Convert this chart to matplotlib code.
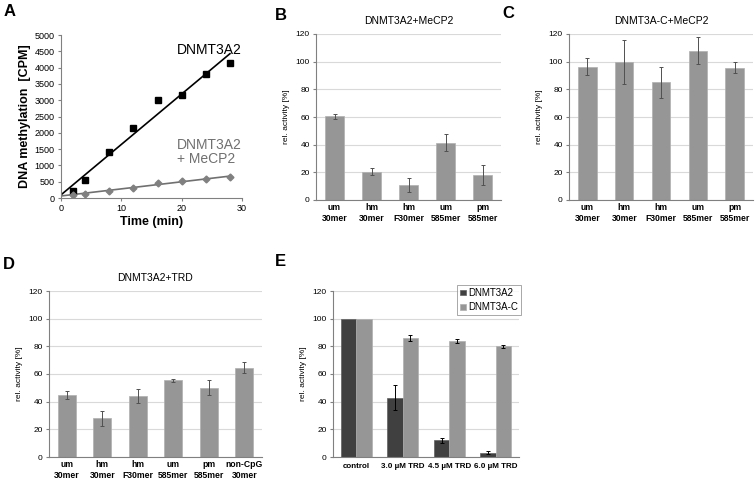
import numpy as np
import matplotlib
matplotlib.use("Agg")
import matplotlib.pyplot as plt

plt.rcParams['font.family'] = ['Liberation Sans', 'DejaVu Sans']

# ---- data ----
# A: time course
time_min = [2, 4, 8, 12, 16, 20, 24, 28]
dnmt3a2_cpm = [200, 550, 1400, 2150, 3000, 3150, 3800, 4150]
mecp2_cpm = [100, 130, 230, 320, 460, 530, 570, 640]

# B / C: MeCP2
sub_bc = ["um\n30mer", "hm\n30mer", "hm\nF30mer", "um\n585mer", "pm\n585mer"]
b_vals = [60.5, 20.5, 11, 41.5, 18]
b_err = [2, 2.5, 5, 6, 7]
c_vals = [96.5, 99.5, 85, 108, 95.5]
c_err = [6, 16, 11, 10, 4]

# D: TRD
sub_d = ["um\n30mer", "hm\n30mer", "hm\nF30mer", "um\n585mer", "pm\n585mer", "non-CpG\n30mer"]
d_vals = [45, 28, 44, 55.5, 50, 64.5]
d_err = [3, 5.5, 5, 1, 5.5, 4]

# E: TRD titration
e_cats = ["control", "3.0 µM TRD", "4.5 µM TRD", "6.0 µM TRD"]
e_a2 = [100, 43, 12, 3]
e_a2_err = [0, 9, 2, 1]
e_c = [100, 86, 84, 80]
e_c_err = [0, 2, 1.5, 1]

W, H = 756, 479
fig = plt.figure(figsize=(W / 100, H / 100), dpi=100)


def ax_px(l, t, r, b):
    return fig.add_axes([l / W, 1 - b / H, (r - l) / W, (b - t) / H])


BAR = '#969696'
DARK = '#404040'
SPINE = '#808080'


def style_bar_ax(ax):
    ax.set_ylim(0, 120)
    ax.set_yticks(range(0, 121, 20))
    ax.yaxis.grid(True, color='#d9d9d9', lw=0.8)
    ax.set_axisbelow(True)
    for s in ['top', 'right']:
        ax.spines[s].set_visible(False)
    for s in ['left', 'bottom']:
        ax.spines[s].set_color(SPINE)
        ax.spines[s].set_linewidth(0.8)
    ax.tick_params(axis='y', labelsize=6, length=2.5, color=SPINE, width=0.8, pad=2)
    ax.tick_params(axis='x', which='both', length=0, pad=2.5)
    ax.set_ylabel('rel. activity [%]', fontsize=6, labelpad=4)


def single_bars(ax, labels, vals, err, title):
    x = np.arange(len(vals))
    ax.bar(x, vals, width=0.5, color=BAR, edgecolor='#b0b0b0', linewidth=0.5)
    ax.errorbar(x, vals, yerr=err, fmt='none', ecolor='#505050', elinewidth=0.7, capsize=1.5, capthick=0.7)
    ax.set_xlim(-0.5, len(vals) - 0.5)
    ax.set_xticks(x)
    ax.set_xticklabels(labels, fontweight='bold', fontsize=6.2, linespacing=1.15)
    ax.set_xticks(np.arange(len(vals) + 1) - 0.5, minor=True)
    ax.tick_params(axis='x', which='minor', length=2.5, color=SPINE, width=0.8)
    style_bar_ax(ax)
    ax.set_title(title, fontsize=7.5, pad=7)


# ---- A ----
axA = ax_px(61, 35, 242, 198)
tt = np.array([0, 28])
p1 = np.polyfit(time_min, dnmt3a2_cpm, 1)
p2 = np.polyfit(time_min, mecp2_cpm, 1)
axA.plot(tt, np.polyval(p1, tt), color='black', lw=1.2)
axA.plot(tt, np.polyval(p2, tt), color='#707070', lw=1.2)
axA.plot(time_min, dnmt3a2_cpm, 's', color='black', ms=5)
axA.plot(time_min, mecp2_cpm, 'D', color='#808080', ms=3.5)
axA.set_xlim(0, 30)
axA.set_ylim(0, 5000)
axA.set_xticks([0, 10, 20, 30])
axA.set_yticks(range(0, 5001, 500))
for s in ['top', 'right']:
    axA.spines[s].set_visible(False)
for s in ['left', 'bottom']:
    axA.spines[s].set_color(SPINE)
axA.tick_params(labelsize=6.5, length=2.5, color=SPINE, pad=2)
axA.set_xlabel('Time (min)', fontsize=9, fontweight='bold', labelpad=2)
axA.set_ylabel('DNA methylation  [CPM]', fontsize=9, fontweight='bold', labelpad=3)
axA.text(19.2, 4750, 'DNMT3A2', fontsize=10, color='black', va='top')
axA.text(19.2, 1850, 'DNMT3A2\n+ MeCP2', fontsize=10, color='#707070', va='top', linespacing=1.05)

# ---- B, C ----
axB = ax_px(316, 34, 501, 200)
single_bars(axB, sub_bc, b_vals, b_err, 'DNMT3A2+MeCP2')
axC = ax_px(569, 34, 753, 200)
single_bars(axC, sub_bc, c_vals, c_err, 'DNMT3A-C+MeCP2')

# ---- D ----
axD = ax_px(49, 291, 262, 457)
single_bars(axD, sub_d, d_vals, d_err, 'DNMT3A2+TRD')

# ---- E ----
axE = ax_px(333, 291, 519, 457)
x = np.arange(len(e_cats))
bw = 0.33
axE.bar(x - bw / 2, e_a2, width=bw, color=DARK, edgecolor='#606060', linewidth=0.5, label='DNMT3A2')
axE.bar(x + bw / 2, e_c, width=bw, color=BAR, edgecolor='#b0b0b0', linewidth=0.5, label='DNMT3A-C')
axE.errorbar(x[1:] - bw / 2, e_a2[1:], yerr=e_a2_err[1:], fmt='none', ecolor='black', elinewidth=0.7, capsize=1.5, capthick=0.7)
axE.errorbar(x[1:] + bw / 2, e_c[1:], yerr=e_c_err[1:], fmt='none', ecolor='black', elinewidth=0.7, capsize=1.5, capthick=0.7)
axE.set_xlim(-0.5, len(e_cats) - 0.5)
axE.set_xticks(x)
axE.set_xticklabels(e_cats, fontweight='bold', fontsize=5.8)
axE.set_xticks(np.arange(len(e_cats) + 1) - 0.5, minor=True)
axE.tick_params(axis='x', which='minor', length=2.5, color=SPINE, width=0.8)
style_bar_ax(axE)
axE.tick_params(axis='x', which='major', pad=4)
leg = axE.legend(loc='upper right', bbox_to_anchor=(1.01, 1.036), fontsize=7, frameon=True,
                 fancybox=False, handlelength=0.55, handleheight=0.55, handletextpad=0.25,
                 borderpad=0.3, labelspacing=0.45, borderaxespad=0)
leg.get_frame().set_edgecolor('#808080')
leg.get_frame().set_linewidth(0.6)

# panel letters
for lab, (px, py) in {'A': (4, 4), 'B': (275, 8), 'C': (502, 6), 'D': (3, 257), 'E': (275, 254)}.items():
    fig.text(px / W, 1 - py / H, lab, fontsize=12, fontweight='bold', va='top', ha='left')

fig.savefig('out.png', dpi=100)
